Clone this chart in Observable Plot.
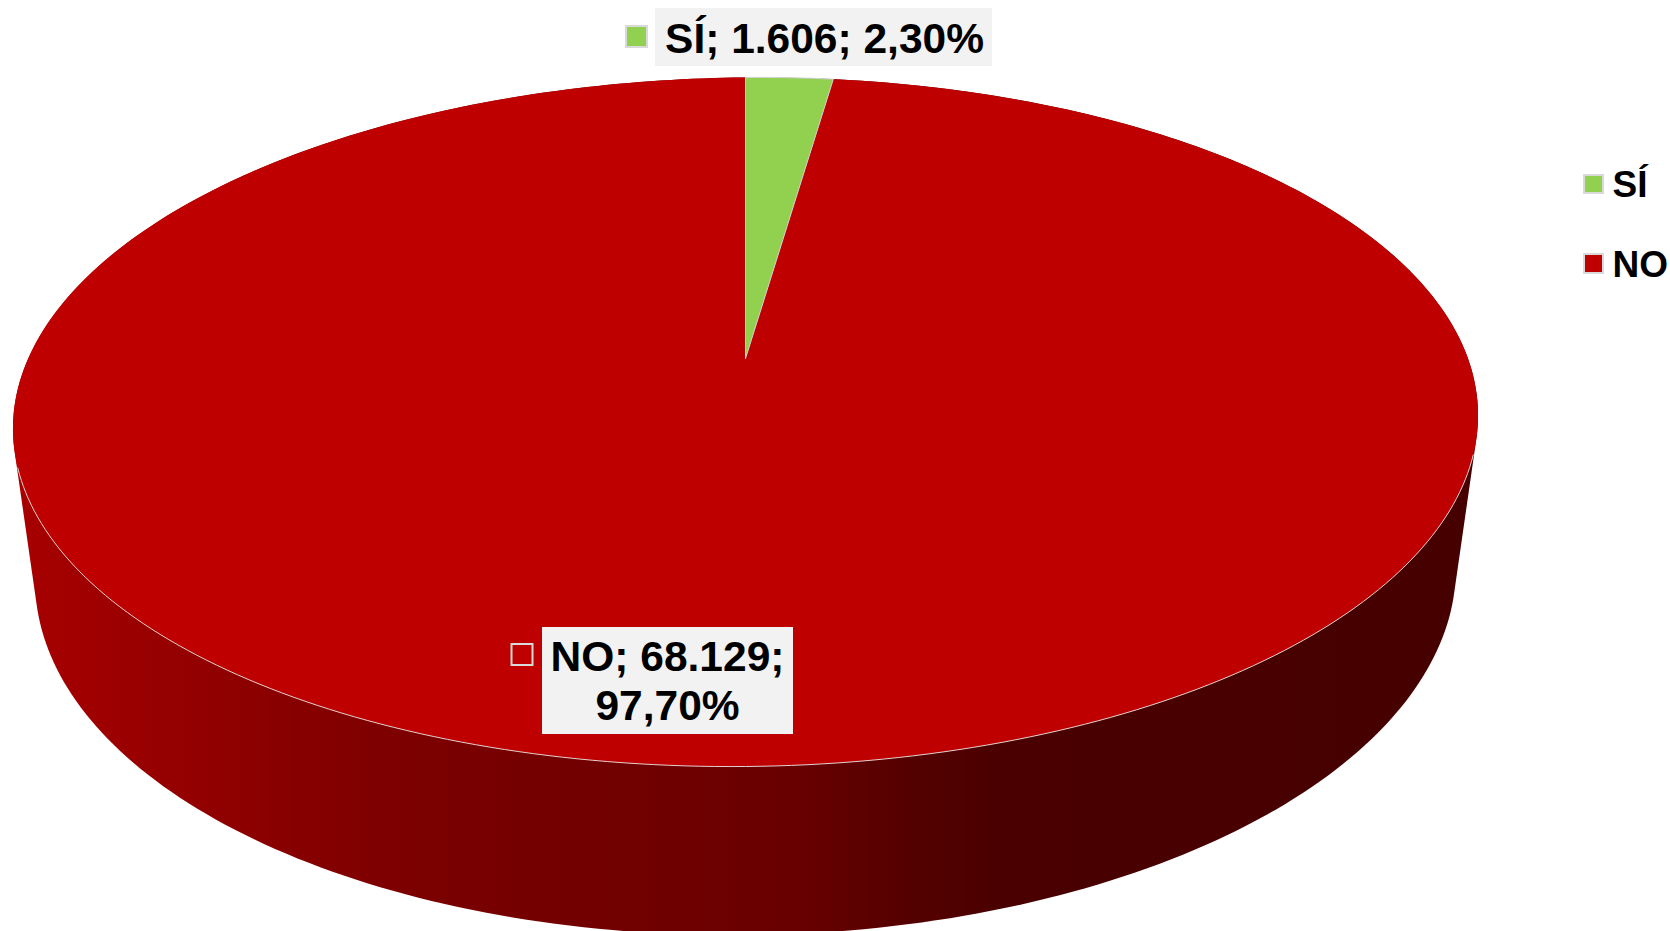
<!DOCTYPE html>
<html lang="es">
<head>
<meta charset="utf-8">
<title>SÍ / NO</title>
<script src="https://cdn.jsdelivr.net/npm/d3@7"></script>
<script src="https://cdn.jsdelivr.net/npm/@observablehq/plot@0.6"></script>
<style>
html,body{margin:0;padding:0;background:#fff;overflow:hidden}
svg{display:block}
</style>
</head>
<body>
<div id="chart"></div>
<script>
// Data
const categories = ["SÍ", "NO"];
const counts = [1606, 68129];
const sliceColors = ["#92d050", "#bf0000"];

// Shading of the side wall, left to right
const shadeStops = [15, 150, 340, 500, 700, 800, 900, 1000, 1478];
const shadeColors = ["#a80000", "#980000", "#820000", "#760000", "#6e0000", "#680000", "#560000", "#4a0000", "#460000"];

const W = 1670, H = 931;
const font = "'Liberation Sans', Arial, sans-serif";
const es = d3.formatLocale({decimal: ",", thousands: ".", grouping: [3], currency: ["", "€"]});
const fmtN = es.format(",d");
const fmtP = es.format(".2%");
const total = d3.sum(counts);

// Perspective view of the disc: theta clockwise from the top; depth 0 = top face, 1 = bottom face
const view = {cx: 745, cy: 358, a: 720, b: 332.8, k: 0.1843, m: 0.03, h: 155, shear: -0.009};
function project(theta, depth) {
  const px = Math.sin(theta), py = Math.cos(theta);
  const w = 1 + view.m * depth + view.k * py;
  const x = view.cx + view.a * px / w;
  const y = view.cy + (-view.b * py + view.h * depth) / w + view.shear * (view.a * px / w);
  return {x, y};
}
const rad = Math.PI / 180;

const arcs = d3.pie().sort(null)(counts);
const sliceRows = arcs.flatMap((arc, i) => {
  const n = Math.max(4, Math.ceil((arc.endAngle - arc.startAngle) / rad));
  const pts = d3.range(n + 1).map(j => project(arc.startAngle + (arc.endAngle - arc.startAngle) * j / n, 0));
  const apex = {x: view.cx, y: view.cy};
  return [apex, ...pts, apex].map(p => ({...p, category: categories[i]}));
});

// Side wall: outline of the extruded disc
const rim = d3.range(0, 360, 1).flatMap(d => [project(d * rad, 0), project(d * rad, 1)]);
const hull = d3.polygonHull(rim.map(p => [p.x, p.y]));
const wallRows = [...hull, hull[0]].map(([x, y]) => ({x, y}));

// Pale line along the front of the top face, where it meets the wall
const frontRows = d3.range(107, 254, 1).map(d => project(d * rad, 0));

const wallGradient = () => {
  const defs = d3.create("svg:defs");
  const g = defs.append("linearGradient").attr("id", "wallShade")
    .attr("gradientUnits", "userSpaceOnUse").attr("x1", 0).attr("x2", W).attr("y1", 0).attr("y2", 0);
  shadeStops.forEach((s, i) => g.append("stop").attr("offset", s / W).attr("stop-color", shadeColors[i]));
  return defs.node();
};

const labelLines = [
  {text: `${categories[0]}; ${fmtN(counts[0])}; ${fmtP(counts[0] / total)}`, x: 824, y: 52},
  {text: `${categories[1]}; ${fmtN(counts[1])};`, x: 667, y: 670},
  {text: fmtP(counts[1] / total), x: 667, y: 719}
];
const labelBoxes = [
  {x1: 655, x2: 992, y1: 8, y2: 66},
  {x1: 542, x2: 793, y1: 627, y2: 734}
];
const labelKeys = [
  {x1: 626, x2: 647, y1: 26, y2: 47, category: categories[0]},
  {x1: 511.5, x2: 532.5, y1: 644, y2: 665, category: categories[1]}
];
const legendKeys = [
  {x1: 1584, x2: 1603, y1: 175, y2: 193, category: categories[0]},
  {x1: 1584, x2: 1603, y1: 254, y2: 273, category: categories[1]}
];
const legendText = [
  {text: categories[0], x: 1612, y: 196},
  {text: categories[1], x: 1612, y: 276}
];

const chart = Plot.plot({
  width: W, height: H,
  margin: 0,
  style: {background: "#fff", fontFamily: font},
  x: {domain: [0, W], range: [0, W], axis: null},
  y: {domain: [0, H], range: [0, H], axis: null},
  color: {domain: categories, range: sliceColors},
  marks: [
    wallGradient,
    Plot.line(wallRows, {x: "x", y: "y", curve: "linear", clip: true, fill: "url(#wallShade)", stroke: "none"}),
    Plot.line(sliceRows.filter(d => d.category === categories[1]), {x: "x", y: "y", z: "category", curve: "linear",
      fill: "category", stroke: "none"}),
    Plot.line(frontRows, {x: "x", y: "y", curve: "linear", stroke: "#e4d2d2", strokeWidth: 1}),
    Plot.line(sliceRows.filter(d => d.category === categories[0]), {x: "x", y: "y", z: "category", curve: "linear",
      fill: "category", stroke: "#d4d4d4", strokeWidth: 1}),
    Plot.rect(labelBoxes, {x1: "x1", x2: "x2", y1: "y1", y2: "y2", fill: "#f2f2f2"}),
    Plot.rect(labelKeys, {x1: "x1", x2: "x2", y1: "y1", y2: "y2", fill: "category", stroke: "#d9d9d9", strokeWidth: 2}),
    Plot.rect(legendKeys, {x1: "x1", x2: "x2", y1: "y1", y2: "y2", fill: "category", stroke: "#d9d9d9", strokeWidth: 2}),
    Plot.text(labelLines, {x: "x", y: "y", text: "text", textAnchor: "middle", lineAnchor: "bottom",
      fontSize: 42.5, fontWeight: "bold", fill: "#000", fontFamily: font}),
    Plot.text(legendText, {x: "x", y: "y", text: "text", textAnchor: "start", lineAnchor: "bottom",
      fontSize: 37, fontWeight: "bold", fill: "#000", fontFamily: font})
  ]
});
document.getElementById("chart").append(chart);
</script>
</body>
</html>
